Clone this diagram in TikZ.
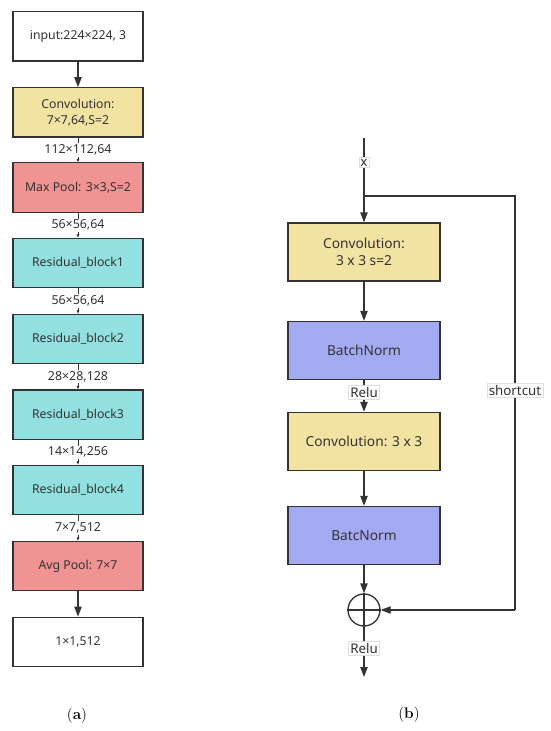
\documentclass[tikz,border=0pt]{standalone}
\usepackage{fontspec}
\setsansfont{Noto Sans}
\usetikzlibrary{arrows.meta}
\definecolor{ink}{HTML}{333333}
\definecolor{yel}{HTML}{F2E3A3}
\definecolor{red}{HTML}{F09393}
\definecolor{cya}{HTML}{92E0E0}
\definecolor{blu}{HTML}{A3AAF2}
\tikzset{
  lbox/.style={draw=ink, line width=1pt, minimum width=97.5pt, minimum height=37pt, inner sep=0pt, align=center, font=\sffamily\fontsize{9.2}{11.5}\selectfont, text=ink},
  rbox/.style={draw=ink, line width=1pt, minimum width=114pt, minimum height=43.5pt, inner sep=0pt, align=center, font=\sffamily\fontsize{10.3}{13}\selectfont, text=ink},
  bigarr/.style={draw=ink, line width=1pt, -{Triangle[length=7.5pt,width=5.5pt]}},
  smallarr/.style={draw=ink, line width=0.6pt, -{Triangle[length=2.5pt,width=2pt]}},
  dimlab/.style={fill=white, inner sep=1pt, font=\sffamily\fontsize{9.3}{11}\selectfont, text=ink},
  taglab/.style={fill=white, draw=gray!25, line width=0.3pt, inner sep=1.2pt, font=\sffamily\fontsize{10}{12}\selectfont, text=ink},
  caplab/.style={font=\fontsize{11.5}{13}\selectfont}
}
\begin{document}
\begin{tikzpicture}[x=0.75pt,y=-0.75pt]
\useasboundingbox (0,0) rectangle (550,731);
% (a)
\node[lbox, fill=white] (in) at (78,36.5) {input:224×224, 3};
\node[lbox, fill=yel] (c1) at (78,112.5) {Convolution:\\7×7,64,S=2};
\node[lbox, fill=red] (mp) at (78,187.5) {Max Pool: 3×3,S=2};
\node[lbox, fill=cya] (r1) at (78,263) {Residual\_block1};
\node[lbox, fill=cya] (r2) at (78,339) {Residual\_block2};
\node[lbox, fill=cya] (r3) at (78,414.5) {Residual\_block3};
\node[lbox, fill=cya] (r4) at (78,490) {Residual\_block4};
\node[lbox, fill=red] (ap) at (78,566) {Avg Pool: 7×7};
\node[lbox, fill=white] (fo) at (78,642) {1×1,512};
\draw[bigarr] (in) -- (c1);
\draw[smallarr] (c1) -- node[dimlab] {112×112,64} (mp);
\draw[smallarr] (mp) -- node[dimlab] {56×56,64} (r1);
\draw[smallarr] (r1) -- node[dimlab] {56×56,64} (r2);
\draw[smallarr] (r2) -- node[dimlab] {28×28,128} (r3);
\draw[smallarr] (r3) -- node[dimlab] {14×14,256} (r4);
\draw[smallarr] (r4) -- node[dimlab] {7×7,512} (ap);
\draw[bigarr] (ap) -- (fo);
\node[caplab] (capa) at (77,716) {(\textbf{a})};
% (b)
\coordinate (xin) at (364,138);
\coordinate (br) at (364,196);
\coordinate (sc1) at (515,196);
\coordinate (sc2) at (515,610);
\coordinate (xout) at (364,677);
\node[rbox, fill=yel] (bc1) at (364,252) {Convolution:\\3 x 3 s=2};
\node[rbox, fill=blu] (bn1) at (364,350.5) {BatchNorm};
\node[rbox, fill=yel] (bc2) at (364,441.5) {Convolution: 3 x 3};
\node[rbox, fill=blu] (bn2) at (364,535.5) {BatcNorm};
\node[draw=ink, line width=1pt, circle, minimum size=24pt, inner sep=0pt] (sum) at (364,610) {};
\draw[ink, line width=1pt] (sum.north) -- (sum.south) (sum.west) -- (sum.east);
\draw[bigarr] (xin) -- node[taglab, pos=0.29] {x} (bc1);
\draw[draw=ink, line width=1pt] (br) -- (sc1) -- node[taglab, pos=0.469] {shortcut} (sc2);
\draw[bigarr] (sc2) -- (sum);
\draw[bigarr] (bc1) -- (bn1);
\draw[bigarr] (bn1) -- node[taglab, pos=0.38] {Relu} (bc2);
\draw[bigarr] (bc2) -- (bn2);
\draw[bigarr] (bn2) -- (sum);
\draw[bigarr] (sum) -- node[taglab, pos=0.43] {Relu} (xout);
\node[caplab] (capb) at (409,715) {(\textbf{b})};
\end{tikzpicture}
\end{document}
